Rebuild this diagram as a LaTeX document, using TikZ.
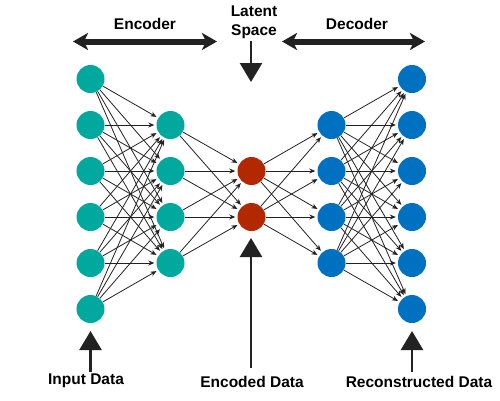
\documentclass[tikz,border=0pt]{standalone}
\usepackage{fontspec}
\setmainfont{Liberation Sans}
\usetikzlibrary{arrows.meta}
\definecolor{tealc}{RGB}{0,168,157}
\definecolor{redc}{RGB}{178,40,0}
\definecolor{bluec}{RGB}{0,112,192}
\definecolor{edgec}{RGB}{34,34,34}
\tikzset{
  neuron/.style={circle,minimum size=28pt,inner sep=0pt,draw=none},
  enc/.style={neuron,fill=tealc},
  lat/.style={neuron,fill=redc},
  dec/.style={neuron,fill=bluec},
  conn/.style={draw=edgec,line width=0.8pt,-{Stealth[length=6pt,width=5pt]},shorten >=2pt},
  bigdouble/.style={draw=edgec,line width=6pt,{Stealth[length=15pt,width=17pt,inset=4pt]}-{Stealth[length=15pt,width=17pt,inset=4pt]}},
  bigdown/.style={draw=edgec,line width=2.6pt,-{Triangle[length=19pt,width=22pt]}},
  label/.style={font=\bfseries\fontsize{15.5}{19}\selectfont,text=black,inner sep=0pt,align=center}
}
\begin{document}
\begin{tikzpicture}[x=1pt,y=-1pt]
\useasboundingbox (0,0) rectangle (500,400);
% neurons
\foreach \i in {1,...,6} {\node[enc] (a\i) at (90.5,{79+46*(\i-1)}) {};}
\foreach \i in {1,...,4} {\node[enc] (b\i) at (170.5,{125+46*(\i-1)}) {};}
\foreach \i in {1,2} {\node[lat] (c\i) at (251.5,{171+46*(\i-1)}) {};}
\foreach \i in {1,...,4} {\node[dec] (d\i) at (331.5,{125+46*(\i-1)}) {};}
\foreach \i in {1,...,6} {\node[dec] (e\i) at (412,{79+46*(\i-1)}) {};}
% connections
\foreach \i in {1,...,6} {\foreach \j in {1,...,4} {\draw[conn] (a\i) -- (b\j);}}
\foreach \i in {1,...,4} {\foreach \j in {1,2} {\draw[conn] (b\i) -- (c\j);}}
\foreach \i in {1,2} {\foreach \j in {1,...,4} {\draw[conn] (c\i) -- (d\j);}}
\foreach \i in {1,...,4} {\foreach \j in {1,...,6} {\draw[conn] (d\i) -- (e\j);}}
% labels
\node[label] (encl) at (145,24) {Encoder};
\node[label] (decl) at (357,24) {Decoder};
\node[label] (latl) at (254,22.5) {Latent\\Space};
\node[label] (inl) at (86,381) {Input Data};
\node[label] (encdl) at (252,382) {Encoded Data};
\node[label] (recl) at (419,382) {Reconstructed Data};
% coordinates for big arrows
\coordinate (encL) at (73,41.5);
\coordinate (encR) at (217,41.5);
\coordinate (decL) at (282,41.5);
\coordinate (decR) at (425,41.5);
\coordinate (latTop) at (251,41);
\coordinate (latTip) at (251,82);
\coordinate (inBot) at (90.5,372);
\coordinate (inTip) at (90.5,331);
\coordinate (edBot) at (251,368);
\coordinate (edTip) at (251,238);
\coordinate (rcBot) at (412,372);
\coordinate (rcTip) at (412,331);
\draw[bigdouble] (encL) -- (encR);
\draw[bigdouble] (decL) -- (decR);
\draw[bigdown] (latTop) -- (latTip);
\draw[bigdown] (inBot) -- (inTip);
\draw[bigdown] (edBot) -- (edTip);
\draw[bigdown] (rcBot) -- (rcTip);
\end{tikzpicture}
\end{document}
